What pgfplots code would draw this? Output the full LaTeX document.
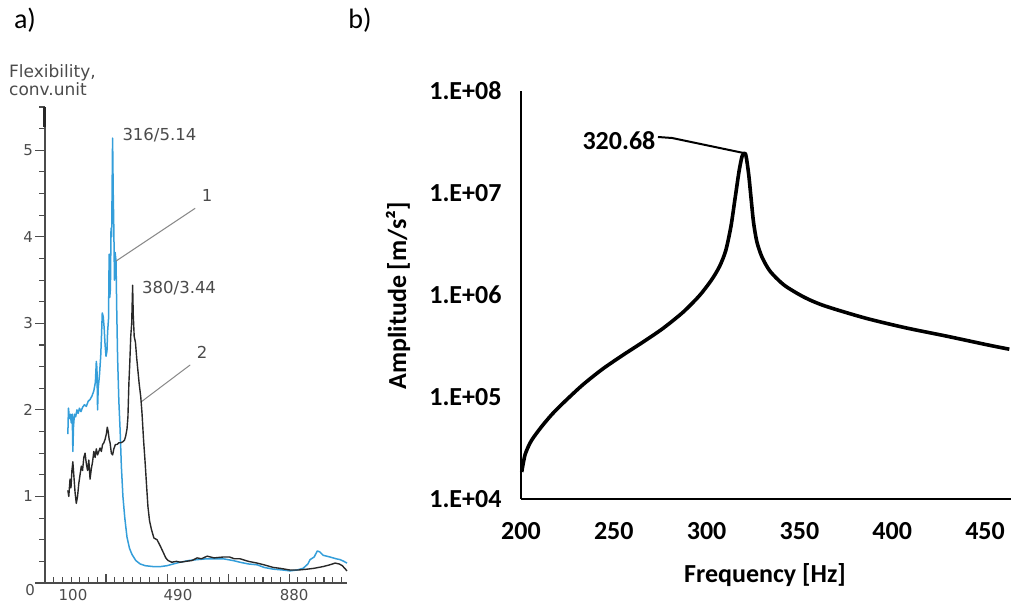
\documentclass[border=0pt]{standalone}
\usepackage{fontspec}
\setmainfont{DejaVu Sans}
\newfontfamily\calibri{Carlito}
\usepackage{pgfplots}
\pgfplotsset{compat=1.18}

\definecolor{ablue}{RGB}{52,158,218}
\definecolor{ablack}{RGB}{40,40,40}
\definecolor{agray}{RGB}{75,75,75}
\definecolor{lgray}{RGB}{135,135,135}

\newcommand{\fa}{\fontsize{16.5}{20}\selectfont}
\newcommand{\ft}{\fontsize{15}{18}\selectfont}
\newcommand{\fb}{\calibri\bfseries\fontsize{26}{30}\selectfont}

\begin{document}
\begin{tikzpicture}
\useasboundingbox (0pt,0pt) rectangle (1013pt,607pt);

% ---------------- panel a: flexibility spectra ----------------
% ordinate with outward ticks, and the two measured curves
\begin{axis}[
  at={(45pt,24pt)}, anchor=south west,
  scale only axis, width=302pt, height=476pt,
  xmin=100, xmax=1065, ymin=0, ymax=5.5,
  axis y line*=left, axis x line=none,
  axis line style={agray, line width=1.2pt},
  tick style={agray, line width=1.1pt},
  tick align=outside,
  major tick length=10pt, minor tick length=6pt,
  ytick={0,1,2,3,4,5},
  yticklabel=\empty,
  minor ytick={0,0.25,...,5.5},
  ylabel style={text=agray, font=\ft},
  clip=false,
]
\addplot[ablue, line width=1.5pt, line join=round] coordinates {
(173,1.72) (175,2.02) (178,1.90) (181,1.95) (184,1.85) (187,1.95) (189,1.52)
(191,1.80) (194,1.95) (198,1.92) (202,2.00) (206,1.96) (210,2.02) (215,1.98)
(220,2.03) (226,2.06) (232,2.04) (238,2.10) (244,2.12) (250,2.16) (256,2.22)
(261,2.32) (264,2.56) (266,2.48) (268,2.00) (270,2.25) (274,2.40) (278,2.62)
(281,2.90) (283,3.12) (286,3.08) (289,2.95) (292,2.75) (295,2.62) (298,2.68)
(300,2.90) (303,3.05) (305,3.80) (307,3.30) (309,3.40) (311,4.10) (313,4.00)
(316,5.14) (318,4.50) (320,4.08) (322,3.50) (324,3.82) (327,3.72) (329,3.20)
(332,2.60) (336,2.10) (340,1.77) (344,1.35) (349,1.00) (355,0.75) (362,0.53)
(370,0.40) (378,0.33) (390,0.26) (404,0.22) (420,0.20) (445,0.19) (470,0.19)
(490,0.20) (510,0.22) (532,0.24) (560,0.26) (586,0.27) (618,0.28) (650,0.28)
(669,0.28) (700,0.26) (723,0.24) (750,0.22) (778,0.21) (800,0.18) (829,0.16)
(860,0.15) (883,0.14) (905,0.15) (925,0.17) (940,0.22) (947,0.27) (960,0.30)
(970,0.37) (978,0.36) (989,0.32) (1000,0.31) (1011,0.30) (1030,0.28)
(1043,0.27) (1055,0.25) (1065,0.23)
};
\addplot[ablack, line width=1.4pt, line join=round] coordinates {
(173,1.07) (176,1.00) (180,1.20) (183,1.10) (186,1.30) (189,1.40) (192,1.25)
(196,1.05) (200,0.92) (204,1.00) (208,1.15) (212,1.25) (216,1.35) (220,1.30)
(224,1.45) (228,1.50) (232,1.38) (236,1.30) (240,1.42) (244,1.20) (248,1.32)
(252,1.40) (256,1.52) (260,1.45) (264,1.55) (268,1.48) (272,1.52) (276,1.56)
(280,1.52) (284,1.60) (288,1.62) (292,1.66) (296,1.72) (299,1.80) (302,1.75)
(305,1.66) (308,1.62) (312,1.50) (316,1.48) (320,1.55) (325,1.60) (330,1.60)
(336,1.62) (342,1.62) (348,1.63) (354,1.65) (358,1.70) (362,1.78) (365,1.92)
(368,2.30) (371,2.55) (374,2.85) (377,3.00) (380,3.44) (382,3.10) (385,2.85)
(389,2.78) (393,2.60) (397,2.45) (401,2.30) (406,2.15) (410,1.96) (415,1.65)
(420,1.39) (425,1.10) (429,0.88) (434,0.72) (440,0.62) (448,0.52) (458,0.50)
(468,0.43) (477,0.36) (486,0.29) (493,0.26) (505,0.24) (520,0.25) (532,0.24)
(550,0.25) (570,0.26) (586,0.29) (600,0.28) (618,0.31) (640,0.29) (669,0.30)
(690,0.30) (705,0.28) (723,0.28) (750,0.25) (778,0.23) (800,0.21) (829,0.18)
(850,0.17) (883,0.15) (910,0.15) (938,0.16) (960,0.17) (989,0.19) (1010,0.21)
(1027,0.23) (1040,0.22) (1050,0.20) (1065,0.14)
};
% thickened top of the ordinate
\draw[ablack, line width=3pt] (axis cs:100,5.27) -- (axis cs:100,5.5);
% ordinate labels
\node[anchor=east, inner sep=0, font=\ft, text=agray, xshift=-12pt] at (axis cs:100,1) {1};
\node[anchor=east, inner sep=0, font=\ft, text=agray, xshift=-12pt] at (axis cs:100,2) {2};
\node[anchor=east, inner sep=0, font=\ft, text=agray, xshift=-12pt] at (axis cs:100,3) {3};
\node[anchor=east, inner sep=0, font=\ft, text=agray, xshift=-12pt] at (axis cs:100,4) {4};
\node[anchor=east, inner sep=0, font=\ft, text=agray, xshift=-12pt] at (axis cs:100,5) {5};
\node[anchor=east, inner sep=0, font=\ft, text=agray, xshift=-10pt, yshift=-7pt] at (axis cs:100,0) {0};
% peak labels and curve callouts
\node[anchor=west, inner sep=0, font=\fa, text=agray] at (axis cs:347,5.17) {316/5.14};
\node[anchor=west, inner sep=0, font=\fa, text=agray] at (axis cs:410,3.41) {380/3.44};
\draw[lgray, line width=1pt] (axis cs:327,3.72) -- (axis cs:580,4.33);
\node[font=\fa, text=agray] at (axis cs:618,4.48) {1};
\draw[lgray, line width=1pt] (axis cs:410,2.10) -- (axis cs:564,2.52);
\node[font=\fa, text=agray] at (axis cs:602,2.66) {2};
\end{axis}

% abscissa with inward ticks and frequency labels
\begin{axis}[
  at={(45pt,24pt)}, anchor=south west,
  scale only axis, width=302pt, height=476pt,
  xmin=100, xmax=1065, ymin=0, ymax=5.5,
  axis x line*=bottom, axis y line=none,
  axis line style={agray, line width=1.2pt},
  tick style={agray, line width=1.1pt},
  tick align=inside,
  xtick={100,295,490,685,880},
  xticklabels={},
  minor xtick={100,127.857,...,1065},
  major tick length=9pt, minor tick length=6pt,
  clip=false,
]
\node[anchor=north, inner sep=0, font=\ft, text=agray, yshift=-6pt] at (axis cs:189.5,0) {100};
\node[anchor=north, inner sep=0, font=\ft, text=agray, yshift=-6pt] at (axis cs:525,0) {490};
\node[anchor=north, inner sep=0, font=\ft, text=agray, yshift=-6pt] at (axis cs:896,0) {880};
\end{axis}

\node[anchor=north west, align=left, inner sep=0, text=agray,
      font=\fontsize{17}{18}\selectfont] at (9pt,543pt) {Flexibility,\\conv.unit};

% ---------------- panel b: computed amplitude response ----------------
\begin{axis}[
  at={(521pt,108pt)}, anchor=south west,
  scale only axis, width=490pt, height=408pt,
  xmin=200, xmax=464, ymode=log, ymin=1e4, ymax=1e8,
  axis lines*=left,
  axis line style={black, line width=2pt},
  xtick={200,250,300,350,400,450},
  xticklabels={200,250,300,350,400,450},
  ytick={1e4,1e5,1e6,1e7,1e8},
  yticklabels={1.E+04,1.E+05,1.E+06,1.E+07,1.E+08},
  yminorticks=false,
  major tick length=0pt,
  tick label style={font=\fb},
  xticklabel style={yshift=-20pt},
  yticklabel style={xshift=-16pt},
  clip=false,
]
\addplot[black, line width=3.6pt, line join=round, smooth, tension=0.45] coordinates {
(200.4,1.84e4) (202.2,2.72e4) (205.5,3.71e4) (210.9,5.07e4) (216.4,6.67e4)
(221.8,8.41e4) (232.8,1.294e5) (243.7,1.866e5) (254.6,2.553e5) (265.5,3.436e5)
(276.4,4.69e5) (287.3,6.78e5) (296.1,9.84e5) (302.6,1.40e6) (307.0,1.91e6)
(310.3,2.72e6) (313.1,4.69e6) (315.3,8.75e6) (317.5,1.64e7) (319.2,2.32e7)
(320.68,2.45e7) (321.4,2.23e7) (322.7,1.51e7) (324.0,8.71e6) (325.3,5.13e6)
(327.1,3.31e6) (329.9,2.34e6) (334.3,1.70e6) (341.9,1.245e6) (352.8,9.46e5)
(363.8,7.80e5) (385.6,5.93e5) (407.4,4.76e5) (429.3,3.95e5) (451.1,3.25e5)
(463.1,2.94e5)
};
\draw[black, line width=2pt, line join=round]
  (axis cs:273.8,3.54e7) -- (axis cs:281.4,3.46e7) -- (axis cs:320.68,2.45e7);
\node[anchor=east, inner sep=0, font=\fb] at (axis cs:272.5,3.24e7) {320.68};
\end{axis}

\node[rotate=90, font=\fb] at (398pt,311pt) {Amplitude [m/s²]};
\node[font=\fb] at (765pt,32pt) {Frequency [Hz]};

% panel letters
\node[font=\calibri\fontsize{28}{32}\selectfont] at (25pt,587pt) {a)};
\node[font=\calibri\fontsize{28}{32}\selectfont] at (360pt,587pt) {b)};
\end{tikzpicture}
\end{document}
